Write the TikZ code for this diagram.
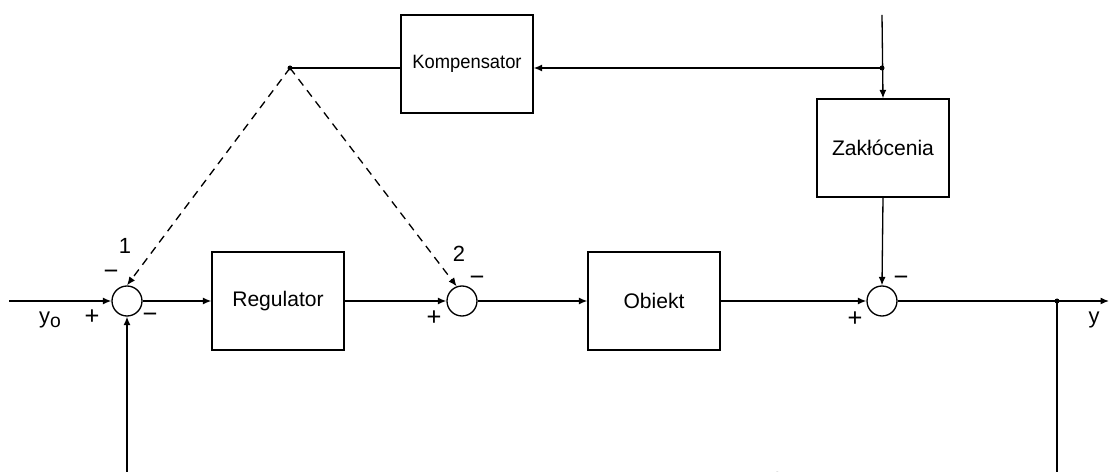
\documentclass[tikz,border=0pt]{standalone}
\usepackage{fontspec}
\setmainfont{Liberation Sans}
\usetikzlibrary{arrows.meta}
\begin{document}
\begin{tikzpicture}[x=0.02cm,y=-0.02cm,
 line width=0.75pt,
 blk/.style={draw, minimum width=2.64cm, minimum height=1.96cm, inner sep=0pt, font=\fontsize{12}{14}\selectfont},
 sumn/.style={draw, circle, minimum size=0.6cm, inner sep=0pt},
 arr/.style={-{Latex[length=0.17cm,width=0.14cm]}},
 dsh/.style={dash pattern=on 0.16cm off 0.12cm},
 lbl/.style={inner sep=0pt, font=\fontsize{12.5}{14}\selectfont},
 sgn/.style={inner sep=0pt, font=\fontsize{14.5}{16}\selectfont},
 dotn/.style={circle, fill, inner sep=0pt, minimum size=0.1cm}]
\clip (0,0) rectangle (1109,472);
% summing junctions
\node[sumn] (s1) at (127,301) {};
\node[sumn] (s2) at (462,301) {};
\node[sumn] (s3) at (882,301) {};
% blocks
\node[blk] (reg) at (278,301) {Regulator};
\node[blk] (obj) at (654,301) {Obiekt};
\node[blk] (kom) at (467,64) {\fontsize{11}{13}\selectfont\scalebox{0.95}[1]{Kompensator}};
\node[blk] (zak) at (883,148) {Zakłócenia};
% points
\coordinate (in) at (9,301);
\coordinate (top) at (882,15);
\node[dotn] (d1) at (882,68) {};
\node[dotn] (apex) at (290,68) {};
\node[dotn] (d2) at (1057,301) {};
\coordinate (out) at (1109,301);
\coordinate (fb1) at (1057,490);
\coordinate (fb2) at (127,490);
% connectors
\draw[arr] (in) -- (s1.west);
\draw[arr] (s1.east) -- (reg.west);
\draw[arr] (reg.east) -- (s2.west);
\draw[arr] (s2.east) -- (obj.west);
\draw[arr] (obj.east) -- (s3.west);
\draw[arr] (s3.east) -- (out);
\draw[arr] (top) -- (zak.north);
\draw[arr] (d1.center) -- (kom.east |- d1);
\draw (kom.west |- apex) -- (apex.center);
\draw[arr] (zak.south) -- (s3.north);
\draw[arr] (d2.center) -- (fb1) -- (fb2) -- (s1.south);
\draw[arr,dsh] (apex.center) -- (s1.north);
\draw[arr,dsh] (apex.center) -- (s2.110);
% labels
\node[lbl] (ly0) at (50,320) {y\raisebox{-0.3ex}{\fontsize{11}{12}\selectfont o}};
\node[sgn] (lp1) at (92,317) {+};
\node[sgn] (lm1a) at (150,318) {−};
\node[sgn] (lm1b) at (111,275) {−};
\node[lbl] (ln1) at (125,246) {1};
\node[lbl] (ln2) at (459,254) {2};
\node[sgn] (lm2) at (477,281) {−};
\node[sgn] (lp2) at (434,318) {+};
\node[sgn] (lm3) at (901,281) {−};
\node[sgn] (lp3) at (855,319) {+};
\node[lbl] (ly) at (1094,320) {y};
\node[lbl] (lbot) at (777,480) {1};
\end{tikzpicture}
\end{document}
